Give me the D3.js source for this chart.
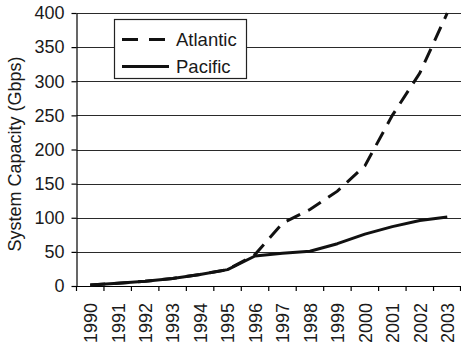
<!DOCTYPE html>
<html>
<head>
<meta charset="utf-8">
<script src="https://cdn.jsdelivr.net/npm/d3@7"></script>
<style>
  html, body { margin: 0; padding: 0; background: #fff; }
  svg { display: block; font-family: "Liberation Sans", Arial, sans-serif; }
</style>
</head>
<body>
<svg id="chart" width="461" height="345"></svg>
<script>
const years = ["1990","1991","1992","1993","1994","1995","1996","1997","1998","1999","2000","2001","2002","2003"];
const atlantic = [1.5, 4, 7, 11, 17, 24, 46, 92, 112, 139, 176, 250, 312, 400];
const pacific  = [1.5, 4, 7, 11, 17, 24, 44, 48, 51, 62, 76, 87, 96, 101];
const yTicks = [0, 50, 100, 150, 200, 250, 300, 350, 400];
const seriesNames = ["Atlantic", "Pacific"];

const svg = d3.select("#chart");
const mLeft = 76.5, mRight = 461, mTop = 13, mBottom = 286;

const x = d3.scaleBand().domain(years).range([mLeft, mRight]).padding(0);
const y = d3.scaleLinear().domain([0, 400]).range([mBottom, mTop]);

// gridlines
svg.append("g").selectAll("line").data(yTicks.filter(d => d > 0)).join("line")
  .attr("x1", mLeft).attr("x2", mRight)
  .attr("y1", d => Math.round(y(d)) + 0.5).attr("y2", d => Math.round(y(d)) + 0.5)
  .attr("stroke", "#2a2a2a").attr("stroke-width", 1);

// y axis
const yAxis = d3.axisLeft(y).tickValues(yTicks).tickSize(5).tickPadding(7).tickSizeOuter(0);
const gy = svg.append("g").attr("transform", `translate(${mLeft},0)`).call(yAxis);
gy.selectAll("text").attr("font-size", 18).attr("fill", "#1a1a1a").attr("font-family", "Liberation Sans, Arial, sans-serif");
gy.selectAll("line, path").attr("stroke", "#000").attr("stroke-width", 1.2);

// x axis baseline
svg.append("line").attr("x1", mLeft).attr("x2", mRight)
  .attr("y1", mBottom + 0.5).attr("y2", mBottom + 0.5)
  .attr("stroke", "#000").attr("stroke-width", 1.2);

// x boundary ticks
const bounds = years.map(d => x(d)).concat([mRight - 0.5]);
svg.append("g").selectAll("line").data(bounds).join("line")
  .attr("x1", d => d).attr("x2", d => d)
  .attr("y1", mBottom).attr("y2", mBottom + 5)
  .attr("stroke", "#000").attr("stroke-width", 1.2);

// x labels
svg.append("g").selectAll("text").data(years).join("text")
  .attr("transform", d => `translate(${x(d) + x.bandwidth() / 2 + 0.5},${mBottom + 17}) rotate(-90)`)
  .attr("text-anchor", "end").attr("dy", "0.35em")
  .attr("font-size", 18).attr("fill", "#1a1a1a")
  .text(d => d);

// y title
svg.append("text")
  .attr("transform", `translate(21,154) rotate(-90)`)
  .attr("text-anchor", "middle").attr("font-size", 18).attr("fill", "#1a1a1a")
  .text("System Capacity (Gbps)");

const line = d3.line().x((d, i) => x(years[i]) + x.bandwidth() / 2).y(d => y(d)).curve(d3.curveLinear);

svg.append("path").datum(atlantic).attr("d", line)
  .attr("fill", "none").attr("stroke", "#111").attr("stroke-width", 3)
  .attr("stroke-dasharray", "15,9");
svg.append("path").datum(pacific).attr("d", line)
  .attr("fill", "none").attr("stroke", "#111").attr("stroke-width", 3)
  .attr("stroke-linejoin", "round");

// legend
const lg = svg.append("g");
lg.append("rect").attr("x", 114.5).attr("y", 19.5).attr("width", 132).attr("height", 59)
  .attr("fill", "#fff").attr("stroke", "#222").attr("stroke-width", 1.2);
lg.append("line").attr("x1", 122).attr("x2", 166).attr("y1", 39.5).attr("y2", 39.5)
  .attr("stroke", "#111").attr("stroke-width", 3).attr("stroke-dasharray", "16,11");
lg.append("line").attr("x1", 122).attr("x2", 169).attr("y1", 66.5).attr("y2", 66.5)
  .attr("stroke", "#111").attr("stroke-width", 3);
lg.append("text").attr("x", 176).attr("y", 45.5).attr("font-size", 18.5).attr("fill", "#1a1a1a").text(seriesNames[0]);
lg.append("text").attr("x", 176).attr("y", 72.5).attr("font-size", 18.5).attr("fill", "#1a1a1a").text(seriesNames[1]);
</script>
</body>
</html>
